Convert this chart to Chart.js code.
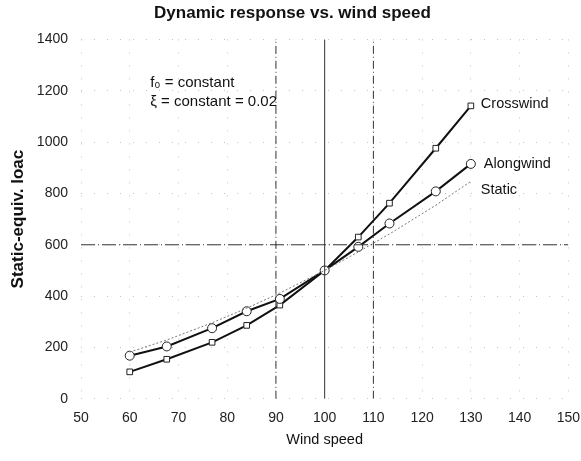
<!DOCTYPE html>
<html>
<head>
<meta charset="utf-8">
<script src="https://cdn.jsdelivr.net/npm/chart.js@4/dist/chart.umd.min.js"></script>
<style>
  html, body { margin: 0; padding: 0; background: #fff; }
  #wrap { width: 581px; height: 461px; position: relative; }
</style>
</head>
<body>
<div id="wrap"><canvas id="respChart"></canvas></div>
<script>
const windSpeed = [60, 67.6, 76.9, 84, 90.8, 100, 106.9, 113.3, 122.8, 130];
const crosswind = [105, 154, 220, 286, 365, 500, 630, 762, 976, 1141];
const alongwind = [168, 204, 275, 341, 389, 500, 592, 683, 808, 915];
const staticLoad = [182, 229, 296, 353, 412, 500, 572, 642, 754, 847];

const xTicks = [50, 60, 70, 80, 90, 100, 110, 120, 130, 140, 150];
const yTicks = [0, 200, 400, 600, 800, 1000, 1200, 1400];

// reference lines drawn across the plot
const refSpeeds = [90, 100, 110];
const refLoad = 600;

const seriesNames = ["Crosswind", "Alongwind", "Static"];
const noteLines = ["f\u2080 = constant", "\u03be = constant = 0.02"];

const FONT = "'Liberation Sans', Arial, sans-serif";

const toPoints = (ys) => windSpeed.map((x, i) => ({ x, y: ys[i] }));

const refDatasets = [
  ...refSpeeds.map((v) => ({
    data: [{ x: v, y: 0 }, { x: v, y: 1400 }],
    borderColor: "#333",
    borderWidth: 1,
    borderDash: v === 100 ? [] : [8, 3, 1, 3],
    pointRadius: 0,
  })),
  {
    data: [{ x: 50, y: refLoad }, { x: 150, y: refLoad }],
    borderColor: "#333",
    borderWidth: 1,
    borderDash: [14, 3, 1, 3],
    pointRadius: 0,
  },
];

const seriesLabels = {
  id: "seriesLabels",
  afterDatasetsDraw(chart) {
    const { ctx, scales } = chart;
    ctx.save();
    ctx.fillStyle = "#111";
    ctx.textBaseline = "middle";
    ctx.font = "14.5px " + FONT;
    const last = windSpeed.length - 1;
    const xs = scales.x.getPixelForValue(windSpeed[last]);
    ctx.fillText(seriesNames[0], xs + 10, scales.y.getPixelForValue(crosswind[last]) - 2);
    ctx.fillText(seriesNames[1], xs + 13, scales.y.getPixelForValue(alongwind[last]));
    ctx.fillText(seriesNames[2], xs + 10, scales.y.getPixelForValue(staticLoad[last]) + 9);

    ctx.font = "15px " + FONT;
    ctx.fillText(noteLines[0], scales.x.getPixelForValue(64.2), scales.y.getPixelForValue(1230));
    ctx.fillText(noteLines[1], scales.x.getPixelForValue(64.2), scales.y.getPixelForValue(1155));
    ctx.restore();
  },
};

new Chart(document.getElementById("respChart"), {
  type: "line",
  data: {
    datasets: [
      ...refDatasets,
      {
        label: "Static",
        data: toPoints(staticLoad),
        borderColor: "#777",
        borderWidth: 1,
        borderDash: [2, 2],
        pointRadius: 0,
      },
      {
        label: "Alongwind",
        data: toPoints(alongwind),
        borderColor: "#111",
        borderWidth: 2,
        pointStyle: "circle",
        pointRadius: 4.5,
        pointBackgroundColor: "#fff",
        pointBorderColor: "#222",
        pointBorderWidth: 1,
      },
      {
        label: "Crosswind",
        data: toPoints(crosswind),
        borderColor: "#111",
        borderWidth: 2,
        pointStyle: "rect",
        pointRadius: 4,
        pointBackgroundColor: "#fff",
        pointBorderColor: "#222",
        pointBorderWidth: 1,
      },
    ],
  },
  options: {
    responsive: true,
    maintainAspectRatio: false,
    animation: false,
    layout: { padding: { top: 0, right: 0, left: 4, bottom: 12 } },
    plugins: {
      legend: { display: false },
      tooltip: { enabled: false },
      title: {
        display: true,
        text: "Dynamic response vs. wind speed",
        color: "#111",
        font: { family: FONT, size: 17, weight: "bold" },
        padding: { top: 3, bottom: 16 },
      },
    },
    scales: {
      x: {
        type: "linear",
        min: 50,
        max: 150,
        afterBuildTicks: (axis) => { axis.ticks = xTicks.map((v) => ({ value: v })); },
        border: { display: false, dash: [1, 12] },
        grid: { color: "#c4c4c4", lineWidth: 1, tickColor: "transparent", tickLength: 10 },
        ticks: {
          color: "#222",
          padding: 1,
          font: { family: FONT, size: 14 },
          callback: (v) => String(v),
        },
        title: {
          display: true,
          text: "Wind speed",
          color: "#111",
          font: { family: FONT, size: 14.5 },
          padding: { top: 4, bottom: 0 },
        },
      },
      y: {
        type: "linear",
        min: 0,
        max: 1400,
        afterBuildTicks: (axis) => { axis.ticks = yTicks.map((v) => ({ value: v })); },
        afterFit: (axis) => { axis.width = 77; },
        border: { display: false, dash: [1, 12] },
        grid: { color: "#c4c4c4", lineWidth: 1, drawTicks: false },
        ticks: {
          color: "#222",
          padding: 13,
          font: { family: FONT, size: 14 },
          callback: (v) => String(v),
        },
        title: {
          display: true,
          text: "Static-equiv. loac",
          color: "#111",
          font: { family: FONT, size: 17, weight: "bold" },
          padding: { top: 4, bottom: 9 },
        },
      },
    },
  },
  plugins: [seriesLabels],
});
</script>
</body>
</html>
